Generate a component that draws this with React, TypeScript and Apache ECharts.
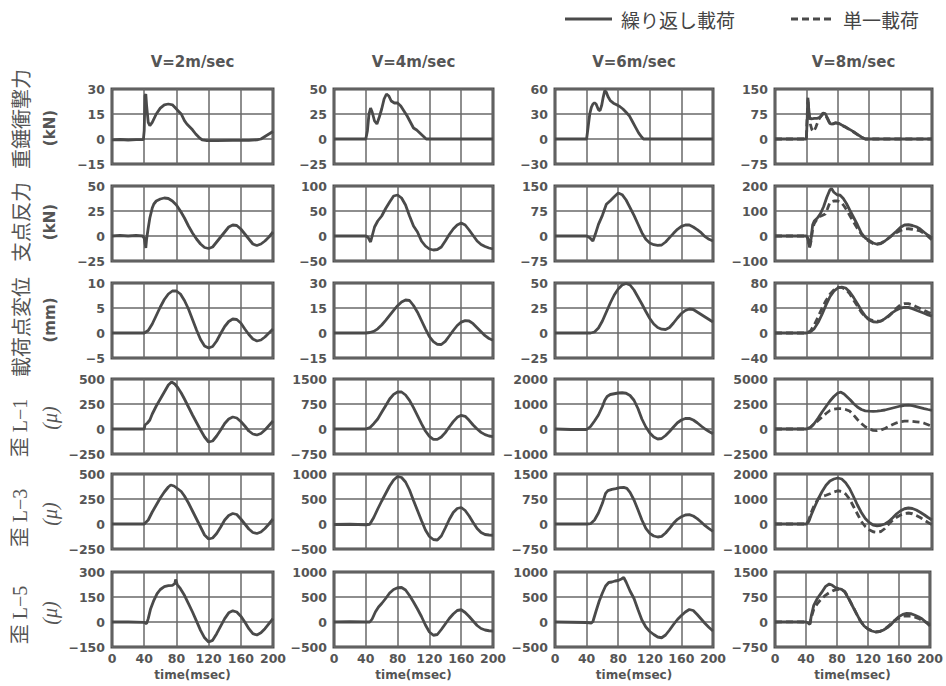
import React, { useEffect, useRef } from 'react';
import * as echarts from 'echarts';

// ---------- text ----------
const speeds = ['V=2m/sec', 'V=4m/sec', 'V=6m/sec', 'V=8m/sec'];
const rowTitles = ['重錘衝撃力', '支点反力', '載荷点変位', '歪 L−1', '歪 L−3', '歪 L−5'];
const rowUnits = ['(kN)', '(kN)', '(mm)', '(μ)', '(μ)', '(μ)'];
const legendNames = ['繰り返し載荷', '単一載荷'];
const xName = 'time(msec)';

// ---------- axes ----------
const xMin = 0;
const xMax = 200;
const xInterval = 40;
const yMin = [
  [-15, -25, -30, -75],
  [-25, -50, -75, -100],
  [-5, -15, -25, -40],
  [-250, -750, -1000, -2500],
  [-250, -500, -750, -1000],
  [-150, -500, -500, -750],
];
const yMax = [
  [30, 50, 60, 150],
  [50, 100, 150, 200],
  [10, 30, 50, 80],
  [500, 1500, 2000, 5000],
  [500, 1000, 1500, 2000],
  [300, 1000, 1000, 1500],
];
const yInterval = [
  [15, 25, 30, 75],
  [25, 50, 75, 100],
  [5, 15, 25, 40],
  [250, 750, 1000, 2500],
  [250, 500, 750, 1000],
  [150, 500, 500, 750],
];

// ---------- data: [time msec, value] ----------
// 重錘衝撃力 (kN)
const impactV2 = [[0,-0.5],[10,-0.3],[20,-0.6],[30,-0.4],[39,-0.3],[40,5],[41,26],[42,27],[43,20],[45,10],[47,8],[50,10],[55,15],[60,18.5],[65,20.5],[70,21],[75,20.5],[78,19],[82,17],[86,15],[90,11],[93,9],[96,7.5],[100,5.5],[104,3],[108,1],[112,-0.5],[118,-1],[130,-1],[150,-0.8],[170,-0.8],[180,-0.5],[185,0],[190,1.5],[195,3],[200,4.5]];
const impactV4 = [[0,0],[20,0],[40,0],[42,8],[44,25],[46,31],[48,27],[51,18],[54,15],[57,22],[60,30],[63,40],[66,45],[69,43],[72,38],[76,36],[80,36],[84,33],[88,28],[92,23],[96,17],[100,11],[104,9],[108,6],[112,3],[116,0],[130,0],[150,0],[170,0],[200,0]];
const impactV6 = [[0,0],[20,0],[40,0],[42,15],[44,30],[46,38],[48,42],[50,43.5],[52,42],[55,35],[57,34],[59,40],[61,50],[63,58],[65,56],[67,51],[70,46],[74,43],[78,41],[82,39],[86,36],[90,32],[94,28],[98,21],[102,14],[106,7],[110,2],[112,0],[130,0],[150,0],[170,0],[200,0]];
const impactV8 = [[0,0],[20,0],[40,0],[41,60],[42,118],[43,90],[44,65],[46,60],[50,62],[54,62],[58,66],[61,78],[64,76],[67,62],[70,46],[73,45],[77,49],[81,47],[85,42],[90,36],[95,29],[100,22],[105,14],[110,6],[115,0],[130,0],[150,0],[170,0],[200,0]];
const impactV8Single = [[0,0],[20,0],[40,0],[41,70],[42,124],[43,80],[45,45],[47,28],[49,22],[52,35],[55,55],[58,68],[61,74],[64,72],[67,60],[70,46],[73,44],[77,48],[81,46],[85,41],[90,35],[95,28],[100,21],[105,13],[110,5],[115,0],[130,0],[150,0],[170,0],[200,0]];

// 支点反力 (kN)
const reactionV2 = [[0,0],[10,0.5],[20,0],[30,0.5],[38,0],[40,-2],[42,-12],[43,-3],[45,8],[47,18],[50,28],[52,32],[55,35],[60,37],[65,38],[70,37.5],[75,35],[80,31],[85,25],[90,18],[95,10],[100,3],[105,-3],[110,-8],[115,-11.5],[120,-12.5],[125,-11],[130,-6],[135,-1],[140,4],[145,9],[150,11],[155,10.5],[160,7],[165,2],[170,-3],[175,-8],[180,-9.5],[185,-8],[190,-5],[195,-1],[200,4]];
const reactionV4 = [[0,0],[20,0],[40,0],[43,-3],[46,-12],[48,0],[51,18],[55,30],[60,40],[65,55],[70,68],[75,80],[80,82],[85,76],[90,62],[95,40],[100,20],[105,8],[110,-10],[115,-20],[120,-26],[125,-28],[130,-27],[135,-22],[140,-10],[145,3],[150,14],[155,22],[160,26],[165,22],[170,12],[175,1],[180,-10],[185,-17],[190,-21],[195,-24],[200,-26]];
const reactionV6 = [[0,0],[20,0],[40,0],[44,-5],[48,-15],[51,5],[55,35],[60,62],[65,95],[70,106],[75,118],[80,129],[85,124],[90,108],[95,85],[100,62],[105,36],[110,10],[115,-10],[120,-21],[125,-26],[130,-28],[135,-27],[140,-18],[145,-5],[150,8],[155,20],[160,29],[165,33],[170,33],[175,27],[180,19],[185,10],[190,-2],[195,-10],[200,-15]];
const reactionV8 = [[0,0],[20,0],[40,0],[42,-10],[44,-45],[46,-10],[48,45],[50,60],[54,72],[58,90],[62,118],[66,155],[70,185],[72,190],[75,175],[79,165],[83,163],[87,150],[91,130],[95,105],[100,75],[105,45],[110,12],[115,-8],[120,-18],[125,-28],[130,-33],[135,-30],[140,-20],[145,-8],[150,6],[155,20],[160,35],[165,44],[170,45],[175,42],[180,37],[185,28],[190,15],[195,3],[200,-8]];
const reactionV8Single = [[0,0],[20,0],[40,0],[42,-10],[44,-47],[46,-20],[48,30],[50,50],[55,75],[60,82],[64,88],[67,110],[70,135],[75,140],[80,140],[84,136],[88,120],[92,100],[96,78],[100,56],[105,30],[110,8],[115,-10],[120,-22],[125,-30],[130,-32],[135,-28],[140,-20],[145,-8],[150,4],[155,14],[160,22],[165,28],[170,29],[175,27],[180,24],[185,20],[190,10],[195,-2],[200,-16]];

// 載荷点変位 (mm)
const dispV2 = [[0,0],[20,0],[40,0],[45,0.5],[50,1.8],[55,3.5],[60,5.2],[65,6.7],[70,7.8],[75,8.4],[80,8.4],[85,7.8],[90,6.5],[95,4.8],[100,2.7],[105,0.6],[110,-1.3],[115,-2.6],[120,-3],[125,-2.7],[130,-1.6],[135,-0.1],[140,1.3],[145,2.3],[150,2.8],[155,2.7],[160,2.0],[165,0.8],[170,-0.3],[175,-1.2],[180,-1.6],[185,-1.4],[190,-0.8],[195,0],[200,0.8]];
const dispV4 = [[0,0],[20,0],[40,0],[45,0.3],[50,1],[55,2.5],[60,4.8],[65,7.6],[70,10.6],[75,13.6],[80,16.4],[85,18.6],[90,19.8],[95,19.5],[100,16.5],[105,12.5],[110,7.5],[115,2.5],[120,-2.2],[125,-5.2],[130,-6.8],[135,-6.9],[140,-5],[145,-1.8],[150,1.5],[155,4.5],[160,6.5],[165,7.4],[170,7.2],[175,5.6],[180,3.2],[185,0.8],[190,-1.6],[195,-3.3],[200,-4.3]];
const dispV6 = [[0,0],[20,0],[40,0],[45,0],[50,1],[55,5],[60,12],[65,21],[70,30],[75,38],[80,44],[85,48],[90,49.5],[95,48],[100,43],[105,36],[110,29],[115,21.5],[120,14.5],[125,9],[130,5.5],[135,3.8],[140,3.5],[145,5.5],[150,10],[155,15],[160,19.5],[165,22.5],[170,24],[175,23.5],[180,21],[185,18.5],[190,16],[195,13.5],[200,11]];
const dispV8 = [[0,0],[20,0],[40,0],[45,1.5],[50,7],[55,17],[60,30],[65,45],[70,58],[75,67],[80,72],[85,73.5],[90,72],[95,66],[100,57],[105,47],[110,36],[115,27],[120,21],[125,18],[130,17.5],[135,19],[140,23],[145,28],[150,33],[155,37],[160,40],[165,41],[170,41],[175,39],[180,36.5],[185,34],[190,31.5],[195,29],[200,27]];
const dispV8Single = [[0,0],[20,0],[40,0],[45,3],[50,13],[55,26],[60,40],[65,52],[70,62],[75,69],[80,73],[85,73],[90,70],[95,63],[100,53],[105,43],[110,33],[115,26],[120,22],[125,20],[130,19],[135,19.5],[140,22],[145,27],[150,33],[155,40],[160,45],[165,47],[170,47],[175,45],[180,42],[185,39],[190,36],[195,33],[200,31]];

// 歪 L-1 (μ)
const strainL1V2 = [[0,0],[20,2],[40,0],[41,40],[44,60],[47,90],[50,150],[55,230],[60,300],[65,370],[70,440],[74,470],[78,450],[82,410],[86,360],[90,300],[95,220],[100,140],[105,65],[110,-10],[115,-80],[120,-130],[125,-120],[130,-70],[135,-10],[140,55],[145,100],[150,120],[155,110],[160,75],[165,30],[170,-20],[175,-50],[180,-60],[185,-45],[190,-10],[195,35],[200,80]];
const strainL1V4 = [[0,0],[20,0],[40,0],[45,40],[50,160],[55,300],[60,500],[65,700],[70,900],[75,1040],[80,1110],[85,1110],[90,1020],[95,860],[100,640],[105,400],[110,160],[115,-60],[120,-220],[125,-310],[130,-310],[135,-240],[140,-110],[145,60],[150,220],[155,350],[160,410],[165,380],[170,260],[175,120],[180,0],[185,-100],[190,-170],[195,-210],[200,-230]];
const strainL1V6 = [[0,0],[20,-20],[40,-20],[45,100],[50,320],[55,560],[60,900],[63,1150],[66,1300],[70,1380],[75,1410],[80,1440],[85,1450],[90,1430],[95,1340],[100,1150],[105,820],[110,400],[115,80],[120,-160],[125,-320],[130,-400],[135,-380],[140,-260],[145,-100],[150,80],[155,250],[160,360],[165,420],[170,425],[175,360],[180,250],[185,120],[190,0],[195,-100],[200,-190]];
const strainL1V8 = [[0,0],[20,0],[40,0],[45,150],[50,550],[55,1100],[60,1700],[65,2250],[70,2800],[75,3250],[80,3600],[84,3680],[88,3500],[92,3200],[96,2900],[100,2550],[105,2200],[110,1950],[115,1820],[120,1780],[125,1770],[130,1780],[135,1830],[140,1900],[145,2000],[150,2100],[155,2200],[160,2300],[165,2370],[170,2380],[175,2330],[180,2240],[185,2140],[190,2040],[195,1950],[200,1870]];
const strainL1V8Single = [[0,0],[20,0],[40,0],[45,150],[50,500],[55,850],[60,1200],[65,1550],[70,1850],[75,1980],[80,2040],[85,2030],[90,1950],[95,1800],[100,1400],[105,950],[110,550],[115,220],[120,0],[125,-130],[130,-170],[135,-100],[140,50],[145,250],[150,450],[155,620],[160,730],[165,780],[170,790],[175,760],[180,720],[185,680],[190,580],[195,420],[200,260]];

// 歪 L-3 (μ)
const strainL3V2 = [[0,0],[20,0],[40,0],[45,40],[50,120],[55,190],[60,260],[65,320],[70,370],[73,390],[77,380],[82,350],[86,325],[90,280],[95,210],[100,130],[105,50],[110,-30],[115,-110],[120,-150],[125,-140],[130,-95],[135,-30],[140,40],[145,85],[150,105],[155,95],[160,50],[165,0],[170,-50],[175,-85],[180,-95],[185,-80],[190,-45],[195,0],[200,50]];
const strainL3V4 = [[0,-10],[20,-5],[40,-15],[45,-5],[50,130],[55,300],[60,460],[65,610],[70,760],[75,880],[80,950],[85,930],[90,840],[95,680],[100,470],[105,270],[110,70],[115,-120],[120,-250],[125,-310],[130,-320],[135,-240],[140,-80],[145,90],[150,230],[155,310],[160,330],[165,270],[170,160],[175,30],[180,-90],[185,-170],[190,-210],[195,-220],[200,-225]];
const strainL3V6 = [[0,0],[20,0],[40,0],[45,10],[50,120],[55,330],[60,620],[64,920],[67,1000],[72,1040],[77,1060],[82,1090],[87,1100],[91,1070],[95,950],[100,720],[105,430],[110,120],[115,-130],[120,-280],[125,-360],[130,-390],[135,-370],[140,-270],[145,-130],[150,20],[155,140],[160,220],[165,270],[170,280],[175,240],[180,160],[185,60],[190,-50],[195,-140],[200,-220]];
const strainL3V8 = [[0,0],[20,0],[40,0],[43,100],[46,350],[50,650],[55,1000],[60,1300],[65,1550],[70,1720],[75,1800],[80,1840],[85,1800],[90,1650],[95,1420],[100,1100],[105,760],[110,460],[115,220],[120,60],[125,-40],[130,-70],[135,-50],[140,0],[145,100],[150,250],[155,410],[160,530],[165,610],[170,640],[175,620],[180,560],[185,470],[190,370],[195,260],[200,160]];
const strainL3V8Single = [[0,0],[20,0],[40,0],[43,150],[46,450],[50,750],[55,1000],[60,1100],[65,1150],[70,1210],[75,1280],[80,1330],[85,1300],[90,1200],[95,1000],[100,700],[105,400],[110,100],[115,-100],[120,-230],[125,-310],[130,-330],[135,-300],[140,-180],[145,0],[150,150],[155,270],[160,360],[165,420],[170,440],[175,410],[180,340],[185,260],[190,160],[195,60],[200,-30]];

// 歪 L-5 (μ)
const strainL5V2 = [[0,0],[20,0],[40,-2],[43,-10],[45,20],[48,80],[52,130],[56,170],[60,195],[65,212],[70,218],[75,220],[78,230],[79,255],[81,225],[85,200],[90,160],[95,110],[100,60],[105,5],[110,-50],[115,-95],[120,-120],[125,-110],[130,-70],[135,-25],[140,20],[145,55],[150,67],[155,60],[160,35],[165,0],[170,-40],[175,-70],[180,-78],[185,-65],[190,-40],[195,-10],[200,20]];
const strainL5V4 = [[0,0],[20,5],[40,0],[45,0],[48,60],[52,200],[56,300],[60,370],[65,470],[70,580],[75,650],[80,685],[85,690],[90,640],[95,530],[100,400],[105,260],[110,110],[115,-60],[120,-200],[125,-265],[130,-250],[135,-150],[140,-40],[145,70],[150,160],[155,230],[160,245],[165,190],[170,110],[175,20],[180,-70],[185,-130],[190,-160],[195,-175],[200,-180]];
const strainL5V6 = [[0,0],[20,-5],[40,-10],[46,-20],[48,10],[52,220],[56,420],[60,580],[64,720],[68,790],[72,800],[76,820],[80,830],[84,860],[87,890],[90,800],[95,620],[100,470],[105,250],[110,40],[115,-100],[120,-190],[125,-250],[130,-300],[135,-315],[140,-260],[145,-160],[150,-50],[155,50],[160,130],[165,200],[170,250],[175,230],[180,150],[185,60],[190,-30],[195,-110],[200,-180]];
const strainL5V8 = [[0,0],[20,5],[40,0],[43,-30],[45,-70],[47,200],[50,500],[55,720],[60,880],[65,1060],[70,1140],[74,1100],[78,1030],[82,1000],[86,980],[90,900],[95,700],[100,480],[105,260],[110,40],[115,-120],[120,-210],[125,-270],[130,-300],[135,-290],[140,-240],[145,-170],[150,-70],[155,60],[160,160],[165,230],[170,260],[175,250],[180,210],[185,160],[190,90],[195,-10],[200,-120]];
const strainL5V8Single = [[0,0],[20,5],[40,0],[43,-30],[45,-60],[47,150],[50,380],[55,560],[60,700],[65,800],[70,880],[75,940],[80,975],[85,990],[90,920],[95,720],[100,490],[105,260],[110,40],[115,-120],[120,-210],[125,-270],[130,-295],[135,-285],[140,-230],[145,-150],[150,-50],[155,50],[160,120],[165,170],[170,185],[175,180],[180,150],[185,110],[190,50],[195,-10],[200,-70]];

const repeated = [
  [impactV2, impactV4, impactV6, impactV8],
  [reactionV2, reactionV4, reactionV6, reactionV8],
  [dispV2, dispV4, dispV6, dispV8],
  [strainL1V2, strainL1V4, strainL1V6, strainL1V8],
  [strainL3V2, strainL3V4, strainL3V6, strainL3V8],
  [strainL5V2, strainL5V4, strainL5V6, strainL5V8],
];
const single = [impactV8Single, reactionV8Single, dispV8Single, strainL1V8Single, strainL3V8Single, strainL5V8Single];

// ---------- layout ----------
const colLeft = [112, 334, 555, 775];
const colWidth = [161, 159, 158, 157];
const rowTop = [89, 186, 283, 379, 474, 572];
const rowHeight = 75;
const titleY = [119, 222, 327, 428, 518, 615];
const unitY = [128, 222, 320, 418, 514, 613];

const INK = '#4a4a4a';
const GRIDC = '#686868';
const TICKFONT = '"DejaVu Sans", sans-serif';
const CJK = '"Noto Sans CJK JP", sans-serif';
const minus = (v: number) => String(v).replace('-', '−');

export default function App() {
  const ref = useRef<HTMLDivElement>(null);
  useEffect(() => {
    if (!ref.current) return;
    const chart = echarts.init(ref.current, undefined, { renderer: 'svg' });
    const grids: any[] = [];
    const xAxes: any[] = [];
    const yAxes: any[] = [];
    const series: any[] = [];
    const graphics: any[] = [];
    for (let r = 0; r < 6; r++) {
      for (let c = 0; c < 4; c++) {
        const idx = grids.length;
        grids.push({
          left: colLeft[c], top: rowTop[r], width: colWidth[c], height: rowHeight,
          show: true, borderColor: '#4d4d4d', borderWidth: 3, backgroundColor: 'transparent',
        });
        const bottom = r === 5;
        xAxes.push({
          type: 'value', gridIndex: idx, min: xMin, max: xMax, interval: xInterval,
          axisLine: { show: false }, axisTick: { show: false },
          splitLine: { show: true, lineStyle: { color: GRIDC, width: 1.5 } },
          axisLabel: { show: bottom, margin: 5, color: '#555', fontFamily: TICKFONT, fontWeight: 'bold', fontSize: 12.5 },
          name: bottom ? xName : '', nameLocation: 'middle', nameGap: 22,
          nameTextStyle: { color: '#555', fontFamily: TICKFONT, fontWeight: 'bold', fontSize: 12 },
        });
        yAxes.push({
          type: 'value', gridIndex: idx, min: yMin[r][c], max: yMax[r][c], interval: yInterval[r][c],
          axisLine: { show: false }, axisTick: { show: false },
          splitLine: { show: true, lineStyle: { color: GRIDC, width: 1.5 } },
          axisLabel: { show: true, margin: 7, color: '#555', fontFamily: TICKFONT, fontWeight: 'bold', fontSize: 12.5, formatter: minus },
        });
        series.push({
          type: 'line', name: legendNames[0], xAxisIndex: idx, yAxisIndex: idx,
          data: repeated[r][c], showSymbol: false, symbol: 'none',
          lineStyle: { color: INK, width: 2.8 }, z: 3,
        });
        if (c === 3) {
          series.push({
            type: 'line', name: legendNames[1], xAxisIndex: idx, yAxisIndex: idx,
            data: single[r], showSymbol: false, symbol: 'none',
            lineStyle: { color: INK, width: 2.8, type: [7, 4] }, z: 3,
          });
        }
      }
      graphics.push({
        type: 'text', x: 20, y: titleY[r], rotation: Math.PI / 2,
        style: {
          text: rowTitles[r], fill: '#555', fontSize: 20,
          fontFamily: r >= 3 ? '"Liberation Serif", "Noto Sans CJK JP", serif' : CJK,
          align: 'center', verticalAlign: 'middle',
        },
      });
      graphics.push({
        type: 'text', x: 50, y: unitY[r], rotation: Math.PI / 2,
        style: {
          text: rowUnits[r], fill: '#555',
          fontSize: r >= 3 ? 20 : 15,
          fontWeight: r >= 3 ? 'normal' : 'bold',
          fontStyle: r >= 3 ? 'italic' : 'normal',
          fontFamily: r >= 3 ? '"Liberation Serif", serif' : TICKFONT,
          align: 'center', verticalAlign: 'middle',
        },
      });
    }
    for (let c = 0; c < 4; c++) {
      graphics.push({
        type: 'text', x: colLeft[c] + colWidth[c] / 2, y: 62,
        style: {
          text: speeds[c], fill: '#555', fontSize: 15, fontWeight: 'bold', fontFamily: TICKFONT,
          align: 'center', verticalAlign: 'middle',
        },
      });
    }
    // legend
    graphics.push({ type: 'line', shape: { x1: 565, y1: 19, x2: 612, y2: 19 }, style: { stroke: INK, lineWidth: 2.8 } });
    graphics.push({ type: 'text', x: 621, y: 19, style: { text: legendNames[0], fill: '#444', fontSize: 19, fontFamily: CJK, align: 'left', verticalAlign: 'middle' } });
    graphics.push({ type: 'line', shape: { x1: 791, y1: 19, x2: 831, y2: 19 }, style: { stroke: INK, lineWidth: 2.8, lineDash: [7, 4] } });
    graphics.push({ type: 'text', x: 843, y: 19, style: { text: legendNames[1], fill: '#444', fontSize: 19, fontFamily: CJK, align: 'left', verticalAlign: 'middle' } });

    chart.setOption({
      animation: false,
      backgroundColor: '#ffffff',
      grid: grids,
      xAxis: xAxes,
      yAxis: yAxes,
      series,
      graphic: graphics,
    });
    return () => chart.dispose();
  }, []);
  return <div ref={ref} style={{ position: 'fixed', left: 0, top: 0, width: 946, height: 686 }} />;
}
